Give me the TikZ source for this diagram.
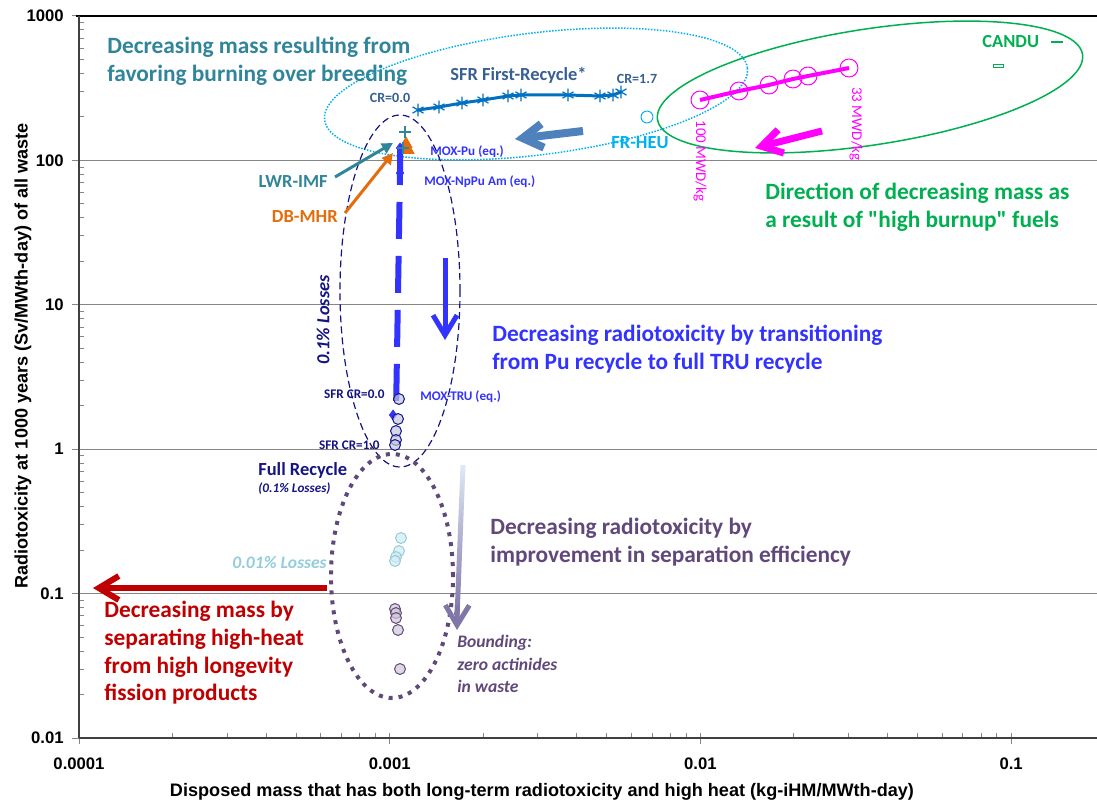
\documentclass[tikz,border=0pt]{standalone}
\usepackage{fontspec}
\setmainfont{Carlito}[Ligatures=TeXOff]
\newfontfamily\arialfont{Liberation Sans}
\usetikzlibrary{arrows.meta,plotmarks}

\definecolor{tealc}{RGB}{49,133,155}
\definecolor{orangec}{RGB}{228,108,10}
\definecolor{bluec}{RGB}{51,51,255}
\definecolor{navyc}{RGB}{20,20,130}
\definecolor{sfrtext}{RGB}{55,96,146}
\definecolor{sfrline}{RGB}{0,112,192}
\definecolor{steelc}{RGB}{79,129,189}
\definecolor{skyc}{RGB}{0,176,240}
\definecolor{greenc}{RGB}{0,176,80}
\definecolor{magc}{RGB}{255,0,255}
\definecolor{redc}{RGB}{192,0,0}
\definecolor{purplec}{RGB}{96,73,122}
\definecolor{paleblue}{RGB}{146,205,220}
\definecolor{gridc}{RGB}{134,134,134}
\definecolor{fadetop}{RGB}{224,232,246}
\definecolor{fadebot}{RGB}{128,118,168}

\begin{document}
\begin{tikzpicture}[x=0.02cm,y=0.02cm,
    every node/.style={inner sep=0pt},
    big/.style={font=\fontsize{13.3}{15.9}\selectfont\bfseries,align=left,anchor=west},
    mid/.style={font=\fontsize{10.5}{12}\selectfont\bfseries},
    small/.style={font=\fontsize{7.5}{9}\selectfont\bfseries},
    ticklab/.style={font=\arialfont\bfseries\fontsize{9.5}{11}\selectfont},
    axistitle/.style={font=\arialfont\bfseries\fontsize{10.3}{12}\selectfont},
    tick/.style={draw=gridc,line width=0.02cm},
    barb/.style={-{Straight Barb[length=0.4cm,width=0.48cm]}}]
  \useasboundingbox (0,0) rectangle (1097,805);

  % grid, ticks and axes
  \foreach \d in {1,...,4}
    \draw[gridc,line width=0.025cm] (79,{67+144.4*\d}) -- (1097,{67+144.4*\d});
  \foreach \d in {0,...,4}
    \foreach \k in {2,...,9}
      \draw[tick] (79,{67+144.4*(\d+log10(\k))}) -- ++(5,0);
  \foreach \d in {0,...,2}
    \foreach \k in {2,...,9}
      \draw[tick] ({79+310.7*(\d+log10(\k))},67) -- ++(0,5);
  \foreach \d in {0,...,5}
    \draw[tick] (72,{67+144.4*\d}) -- (79,{67+144.4*\d});
  \foreach \d in {0,...,3}
    \draw[tick] ({79+310.7*\d},61) -- ++(0,11);
  \draw[black,line width=0.05cm] (76,789) -- (1097,789);
  \draw[black!75,line width=0.05cm] (79,67) -- (79,789);
  \draw[black!75,line width=0.05cm] (79,67) -- (1097,67);

  \foreach \v [count=\i from 0] in {0.01,0.1,1,10,100,1000}
    \node[ticklab,anchor=east] (ylab\i) at (64,{67+144.4*\i}) {\v};
  \foreach \v [count=\i from 0] in {0.0001,0.001,0.01,0.1}
    \node[ticklab] (xlab\i) at ({79+310.7*\i},41) {\v};
  \node[axistitle,rotate=90] (ytitle) at (23,449) {Radiotoxicity at 1000 years (Sv/MWth-day) of all waste};
  \node[axistitle] (xtitle) at (542,13) {Disposed mass that has both long-term radiotoxicity and high heat (kg-iHM/MWth-day)};

  % groupings
  \draw[skyc,line width=0.03cm,dash pattern=on 0.03cm off 0.03cm,rotate around={7:(536,711)}]
    (536,711) ellipse [x radius=213,y radius=61];
  \draw[greenc,line width=0.03cm,rotate around={8.7:(870,718)}]
    (870,718) ellipse [x radius=215,y radius=58];
  \draw[navyc,line width=0.024cm,dash pattern=on 0.14cm off 0.08cm] (400,514) ellipse [x radius=60,y radius=176];
  \draw[purplec,line width=0.08cm,dash pattern=on 0.08cm off 0.12cm] (392,229) ellipse [x radius=61,y radius=122];

  % data series
  \draw[sfrline,line width=0.06cm,mark=asterisk,mark size=3.6pt,mark options={line width=0.025cm}]
    plot coordinates {(418,695) (439,698) (462,702) (483,705) (508,709) (521,710) (568,710) (600,709) (613,710) (621,713)};
  \draw[magc,line width=0.08cm,mark=o,mark size=5.1pt,mark options={fill=white,line width=0.02cm}]
    plot coordinates {(700,705) (739,714) (769,720) (793,726) (808,729) (849,737)};
  \draw[skyc,line width=0.02cm] plot[only marks,mark=o,mark size=3.4pt] coordinates {(647,688)};
  \draw[greenc,line width=0.02cm] (993,737) rectangle (1003,740);
  \draw[orangec] plot[only marks,mark=triangle*,mark size=4pt] coordinates {(406,661) (408,655)};
  \draw[bluec,line width=0.12cm,dash pattern=on 0.74cm off 0.34cm] (400,657) -- (400,632) -- (396,392);
  \draw[bluec] plot[only marks,mark=diamond*,mark size=2.8pt] coordinates {(400,657) (400,632) (393,390)};
  \draw[tealc,line width=0.025cm] plot[only marks,mark=+,mark size=3.4pt] coordinates {(405,673) (403,657)};
  \draw[navyc,line width=0.02cm] plot[only marks,mark=*,mark size=3.1pt,mark options={fill=navyc!25,fill opacity=0.7}]
    coordinates {(399,406) (398,386) (396,374) (396,365) (395,360)};
  \draw[paleblue,line width=0.02cm] plot[only marks,mark=*,mark size=3.1pt,mark options={fill=paleblue!40,fill opacity=0.7}]
    coordinates {(401,267) (399,254) (396,248) (395,244)};
  \draw[purplec,line width=0.02cm] plot[only marks,mark=*,mark size=3.1pt,mark options={fill=purplec!30,fill opacity=0.7}]
    coordinates {(395,196) (396,192) (396,187) (398,175) (400,136)};

  % top annotations
  \node[big,tealc] (burnnote) at (107,744) {Decreasing mass resulting from\\favoring burning over breeding};
  \node[mid,tealc,anchor=east] (lwr) at (328,623) {LWR-IMF};
  \node[mid,orangec,anchor=east] (dbmhr) at (338,588) {DB-MHR};
  \coordinate (lwrTip) at (393,662);
  \coordinate (dbTip) at (393,652);
  \draw[tealc,line width=0.06cm,-{Triangle[length=0.22cm,width=0.22cm]}] ([xshift=0.14cm,yshift=0.1cm]lwr.east) -- (lwrTip);
  \draw[orangec,line width=0.06cm,-{Triangle[length=0.22cm,width=0.22cm]}] ([xshift=0.14cm,yshift=0.08cm]dbmhr.east) -- (dbTip);
  \node[mid,sfrtext,anchor=west] (sfr) at (450,730) {SFR First-Recycle*};
  \node[small,sfrtext,font=\fontsize{8}{9}\selectfont\bfseries] (cr0) at (390,707) {CR=0.0};
  \node[small,sfrtext,font=\fontsize{8}{9}\selectfont\bfseries] (cr17) at (637,726) {CR=1.7};
  \node[mid,skyc] (frheu) at (640,662) {FR-HEU};
  \node[small,bluec,anchor=west] (moxpu) at (430,653) {MOX-Pu (eq.)};
  \node[small,bluec,anchor=west] (moxnp) at (424,623) {MOX-NpPu Am (eq.)};
  \coordinate (recycleTail) at (583,674);
  \coordinate (recycleTip) at (515,666);
  \draw[steelc,line width=0.16cm,barb] (recycleTail) -- (recycleTip);

  % burnup
  \node[magc,rotate=-90,font=\fontsize{8.5}{10}\selectfont] (bu100) at (700,644) {100 MWD/kg};
  \node[magc,rotate=-90,font=\fontsize{8.5}{10}\selectfont] (bu33) at (856,681) {33 MWD/kg};
  \node[mid,greenc,anchor=west] (candu) at (982,763) {CANDU};
  \draw[greenc,line width=0.05cm] ([xshift=0.24cm]candu.east) -- ++(12,0);
  \node[big,greenc] (burnup) at (765,598) {Direction of decreasing mass as\\a result of "high burnup" fuels};
  \coordinate (burnTail) at (822,674);
  \coordinate (burnTip) at (755,657);
  \draw[magc,line width=0.14cm,barb] (burnTail) -- (burnTip);

  % full recycle
  \node[mid,navyc,rotate=90,font=\fontsize{10.5}{12}\selectfont\bfseries\itshape] (loss01) at (323,485) {0.1\% Losses};
  \coordinate (truTail) at (445,547);
  \coordinate (truTip) at (445,465);
  \draw[bluec,line width=0.1cm,barb] (truTail) -- (truTip);
  \node[big,bluec] (trunote) at (492,456) {Decreasing radiotoxicity by transitioning\\from Pu recycle to full TRU recycle};
  \node[small,navyc,anchor=east] (sfr0) at (385,411) {SFR CR=0.0};
  \node[small,bluec,anchor=west] (moxtru) at (420,408) {MOX-TRU (eq.)};
  \node[small,navyc,anchor=east] (sfr1) at (380,360) {SFR CR=1.0};
  \node[mid,navyc,anchor=west] (full) at (258,335) {Full Recycle};
  \node[small,navyc,anchor=west,font=\fontsize{7.5}{9}\selectfont\bfseries\itshape] (fullsub) at (258,316) {(0.1\% Losses)};

  % separation
  \node[paleblue,anchor=east,font=\fontsize{10}{12}\selectfont\bfseries\itshape] (loss001) at (327,242) {0.01\% Losses};
  \node[big,purplec] (sepnote) at (490,263) {Decreasing radiotoxicity by\\improvement in separation efficiency};
  \node[purplec,align=left,anchor=west,font=\fontsize{10}{12.8}\selectfont\bfseries\itshape] (bound) at (457,141) {Bounding:\\zero actinides\\in waste};
  \shade[top color=fadetop,bottom color=fadebot] (460.5,340) -- (465.5,340) -- (459.6,190) -- (454.6,190) -- cycle;
  \coordinate (sepTail) at (457.3,200);
  \coordinate (sepTip) at (457,175);
  \draw[fadebot,line width=0.1cm,barb] (sepTail) -- (sepTip);

  % fission products
  \node[big,redc,font=\fontsize{13.3}{15.7}\selectfont\bfseries] (fpnote) at (104,152) {Decreasing mass by\\separating high-heat\\from high longevity\\fission products};
  \coordinate (fpTail) at (327,217);
  \coordinate (fpTip) at (93,217);
  \draw[redc,line width=0.12cm,barb] (fpTail) -- (fpTip);
\end{tikzpicture}
\end{document}
